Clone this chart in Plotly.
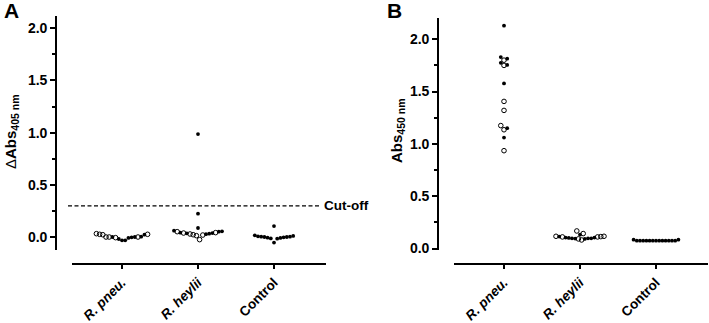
import plotly.graph_objects as go

W, H = 709, 323
FONT = "Liberation Sans, Arial, sans-serif"

CATEGORIES = ["<i>R. pneu.</i>", "<i>R. heylii</i>", "Control"]
CUTOFF = 0.3

# Panel A: ΔAbs405 nm   (fill: 1 = filled dot, 0 = open circle)
A_PNEU_VALS = [0.006, 0.003, 0.0, -0.006, -0.016, 0.029, 0.029, 0.025, -0.029,
               -0.029, 0.025, 0.035, -0.003, 0.003, 0.003, 0.003, 0.003]
A_PNEU_FILL = [1, 1, 1, 1, 1, 0, 0, 0, 1, 1, 1, 0, 0, 1, 0, 0, 0]
A_HEY_VALS = [0.987, 0.226, 0.089, 0.057, 0.054, 0.045, 0.041, 0.035, 0.030, 0.022,
              -0.022, 0.016, 0.025, 0.032, 0.038, 0.041, 0.045, 0.054, 0.064]
A_HEY_FILL = [1, 1, 1, 1, 1, 0, 1, 1, 1, 0, 0, 0, 0, 0, 1, 0, 1, 0, 1]
A_CTRL_VALS = [0.108, 0.019, 0.010, 0.006, 0.003, -0.010, -0.050, -0.013, -0.006,
               -0.003, 0.0, 0.003, 0.006, 0.013]
A_CTRL_FILL = [1] * 14

# Panel B: Abs450 nm
B_PNEU_VALS = [2.13, 1.814, 1.80, 1.83, 1.775, 1.75, 1.755, 1.578, 1.406, 1.32,
               1.175, 1.135, 1.15, 1.06, 0.935]
B_PNEU_FILL = [1, 1, 0, 1, 1, 0, 1, 1, 0, 0, 0, 0, 1, 1, 0]
B_HEY_VALS = [0.117, 0.117, 0.114, 0.111, 0.105, 0.098, 0.098, 0.143, 0.132, 0.168,
              0.092, 0.082, 0.092, 0.095, 0.098, 0.101, 0.105, 0.111, 0.114]
B_HEY_FILL = [0, 0, 0, 0, 1, 1, 1, 0, 1, 0, 0, 0, 1, 1, 1, 1, 1, 0, 1]
B_CTRL_VALS = [0.085, 0.075, 0.075, 0.075, 0.075, 0.075, 0.075, 0.075, 0.075,
               0.075, 0.075, 0.075, 0.075, 0.075, 0.085]
B_CTRL_FILL = [1] * 15

# ---------------- layout geometry (pixels) ----------------
PANELS = [
    dict(name="A", yax_x=56, x0=72, x1=326, tick0=122, xaxis_y=263.5,
         ytop=15.7, ybot=250, yrange=[-0.121, 2.1175], row_px=10,
         title="Δ<b>Abs<sub>405 nm</sub></b>", title_x=12, title_y=132,
         letter_x=11, letter_y=11,
         groups=[(A_PNEU_VALS, A_PNEU_FILL), (A_HEY_VALS, A_HEY_FILL), (A_CTRL_VALS, A_CTRL_FILL)]),
    dict(name="B", yax_x=438, x0=454, x1=708, tick0=504, xaxis_y=263.5,
         ytop=18, ybot=250, yrange=[-0.014, 2.203], row_px=4.8,
         title="<b>Abs<sub>450 nm</sub></b>", title_x=397, title_y=131,
         letter_x=394, letter_y=11,
         groups=[(B_PNEU_VALS, B_PNEU_FILL), (B_HEY_VALS, B_HEY_FILL), (B_CTRL_VALS, B_CTRL_FILL)]),
]
CAT_PX = 76
SLOT_PX = 3.2


def swarm(vals, px_per_unit, row_px):
    """GraphPad-like row layout: group close values into rows, spread each row."""
    order = sorted(range(len(vals)), key=lambda i: vals[i])
    rows, cur = [], []
    for i in order:
        if cur and (vals[i] - vals[cur[0]]) * px_per_unit > row_px:
            rows.append(cur)
            cur = []
        cur.append(i)
    if cur:
        rows.append(cur)
    offs = [0.0] * len(vals)
    for r in rows:
        n = len(r)
        slots = []
        if n % 2:
            slots.append(0)
            k = 1
            while len(slots) < n:
                slots.append(k)
                if len(slots) < n:
                    slots.append(-k)
                k += 1
        else:
            k = 0.5
            while len(slots) < n:
                slots.append(k)
                slots.append(-k)
                k += 1
        for i, s in zip(r, slots):
            offs[i] = s * SLOT_PX / CAT_PX
    return offs


fig = go.Figure()
layout = dict(width=W, height=H, autosize=False, margin=dict(l=0, r=0, t=0, b=0, pad=0),
              paper_bgcolor="white", plot_bgcolor="white", showlegend=False,
              font=dict(family=FONT, color="black"))
annotations = []
shapes = []

for p_i, p in enumerate(PANELS):
    xa = "xaxis" if p_i == 0 else "xaxis2"
    ya = "yaxis" if p_i == 0 else "yaxis2"
    xr = "x" if p_i == 0 else "x2"
    yr = "y" if p_i == 0 else "y2"
    plot_h = p["ybot"] - p["ytop"]
    px_per_unit = plot_h / (p["yrange"][1] - p["yrange"][0])
    xrange = [(p["x0"] - p["tick0"]) / CAT_PX, (p["x1"] - p["tick0"]) / CAT_PX]

    for gi, (vals, fills) in enumerate(p["groups"]):
        offs = swarm(vals, px_per_unit, p["row_px"])
        for flag in (1, 0):
            xs = [gi + offs[k] for k in range(len(vals)) if fills[k] == flag]
            ys = [vals[k] for k in range(len(vals)) if fills[k] == flag]
            if not xs:
                continue
            if flag:
                mk = dict(symbol="circle", size=3.8, color="black")
            else:
                mk = dict(symbol="circle-open", size=4.6, color="black", line=dict(width=1))
            fig.add_trace(go.Scatter(x=xs, y=ys, mode="markers", marker=mk,
                                     xaxis=xr, yaxis=yr, hoverinfo="skip", cliponaxis=False))

    layout[xa] = dict(domain=[p["x0"] / W, p["x1"] / W], anchor="free", automargin=False,
                      position=(H - p["xaxis_y"]) / H, range=xrange,
                      tickmode="array", tickvals=[0, 1, 2], ticktext=CATEGORIES,
                      tickangle=-45, ticks="outside", ticklen=5, tickwidth=1.5,
                      tickcolor="black", showline=True, linewidth=1.6, linecolor="black",
                      showgrid=False, zeroline=False,
                      tickfont=dict(family=FONT, size=13.5, color="black", weight="bold"))
    layout[ya] = dict(domain=[(H - p["ybot"]) / H, (H - p["ytop"]) / H], anchor="free",
                      automargin=False,
                      position=p["yax_x"] / W, range=p["yrange"],
                      tickmode="linear", tick0=0, dtick=0.5, tickformat=".1f",
                      ticks="outside", ticklen=5, tickwidth=1.5, tickcolor="black",
                      minor=dict(ticks="outside", ticklen=3, tickwidth=1.5, dtick=0.25,
                                 tick0=0, tickcolor="black", showgrid=False),
                      showline=True, linewidth=1.6, linecolor="black",
                      showgrid=False, zeroline=False,
                      tickfont=dict(family=FONT, size=14, color="black", weight="bold"))

    annotations.append(dict(text=p["title"], xref="paper", yref="paper",
                            x=p["title_x"] / W, y=(H - p["title_y"]) / H,
                            xanchor="center", yanchor="middle", textangle=-90,
                            showarrow=False, font=dict(family=FONT, size=15, color="black")))
    annotations.append(dict(text="<b>%s</b>" % p["name"], xref="paper", yref="paper",
                            x=p["letter_x"] / W, y=(H - p["letter_y"]) / H,
                            xanchor="center", yanchor="middle", showarrow=False,
                            font=dict(family=FONT, size=21, color="black")))

# Cut-off line in panel A
shapes.append(dict(type="line", xref="paper", yref="y", x0=68 / W, x1=320 / W,
                   y0=CUTOFF, y1=CUTOFF, line=dict(color="black", width=1.3, dash="4px,2.5px")))
annotations.append(dict(text="<b>Cut-off</b>", xref="paper", yref="y", x=322 / W, y=CUTOFF,
                        xanchor="left", yanchor="middle", showarrow=False,
                        font=dict(family=FONT, size=13.5, color="black")))

layout["annotations"] = annotations
layout["shapes"] = shapes
fig.update_layout(**layout)
fig.write_html("out.html", config=dict(displayModeBar=False, responsive=False),
               post_script="document.body.style.margin='0';document.body.style.padding='0';"
                           "document.body.style.overflow='hidden';")
